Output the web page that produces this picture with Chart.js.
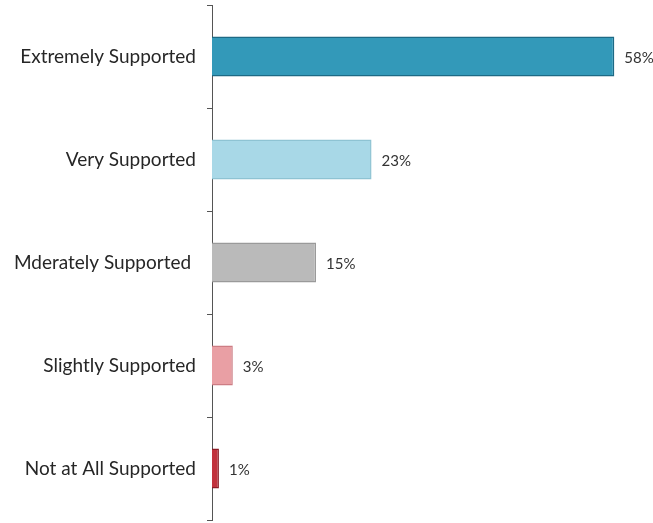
<!DOCTYPE html>
<html>
<head>
<meta charset="utf-8">
<script src="https://cdn.jsdelivr.net/npm/chart.js@4"></script>
<style>
  html, body { margin: 0; padding: 0; background: #ffffff; }
  #wrap { width: 653px; height: 523px; }
</style>
</head>
<body>
<div id="wrap"><canvas id="c" width="653" height="523"></canvas></div>
<script>
// Support levels and share of respondents (%)
const categories = ["Extremely Supported", "Very Supported", "Mderately Supported ", "Slightly Supported", "Not at All Supported"];
const shares = [58, 23, 15, 3, 1];
const fillColors = ["#3399b9", "#a8d8e7", "#bababa", "#e99fa4", "#c1323d"];
const edgeColors = ["#1d6a85", "#8ec3d3", "#9a9a9a", "#cd7d84", "#8c1c26"];

const FONT = "Lato, 'DejaVu Sans', sans-serif";

// Writes each bar's percentage just past its end
const valueLabels = {
  id: "valueLabels",
  afterDatasetsDraw(chart) {
    const ctx = chart.ctx;
    const meta = chart.getDatasetMeta(0);
    ctx.save();
    ctx.font = "15px " + FONT;
    ctx.fillStyle = "#333333";
    ctx.textAlign = "left";
    ctx.textBaseline = "middle";
    meta.data.forEach((bar, i) => {
      ctx.fillText(shares[i] + "%", bar.x + 10, bar.y + 2);
    });
    ctx.restore();
  }
};

new Chart(document.getElementById("c"), {
  type: "bar",
  data: {
    labels: categories,
    datasets: [{
      data: shares,
      backgroundColor: fillColors,
      borderColor: edgeColors,
      borderWidth: 1.5,
      borderSkipped: "left",
      categoryPercentage: 1,
      barPercentage: 0.39
    }]
  },
  options: {
    indexAxis: "y",
    responsive: false,
    animation: false,
    layout: { padding: { top: 5, right: 4, bottom: 3, left: 0 } },
    plugins: { legend: { display: false }, tooltip: { enabled: false } },
    scales: {
      x: {
        display: false,
        min: 0,
        max: 63
      },
      y: {
        offset: true,
        afterFit(axis) {
          axis.width = 212;
          axis.paddingTop = 0;
          axis.paddingBottom = 0;
        },
        border: { display: true, color: "#555555", width: 1 },
        grid: {
          offset: true,
          drawOnChartArea: false,
          drawTicks: true,
          tickLength: 5,
          color: "#555555"
        },
        ticks: {
          padding: 11,
          color: "#262626",
          font: { family: FONT, size: 19 }
        }
      }
    }
  },
  plugins: [valueLabels]
});
</script>
</body>
</html>
